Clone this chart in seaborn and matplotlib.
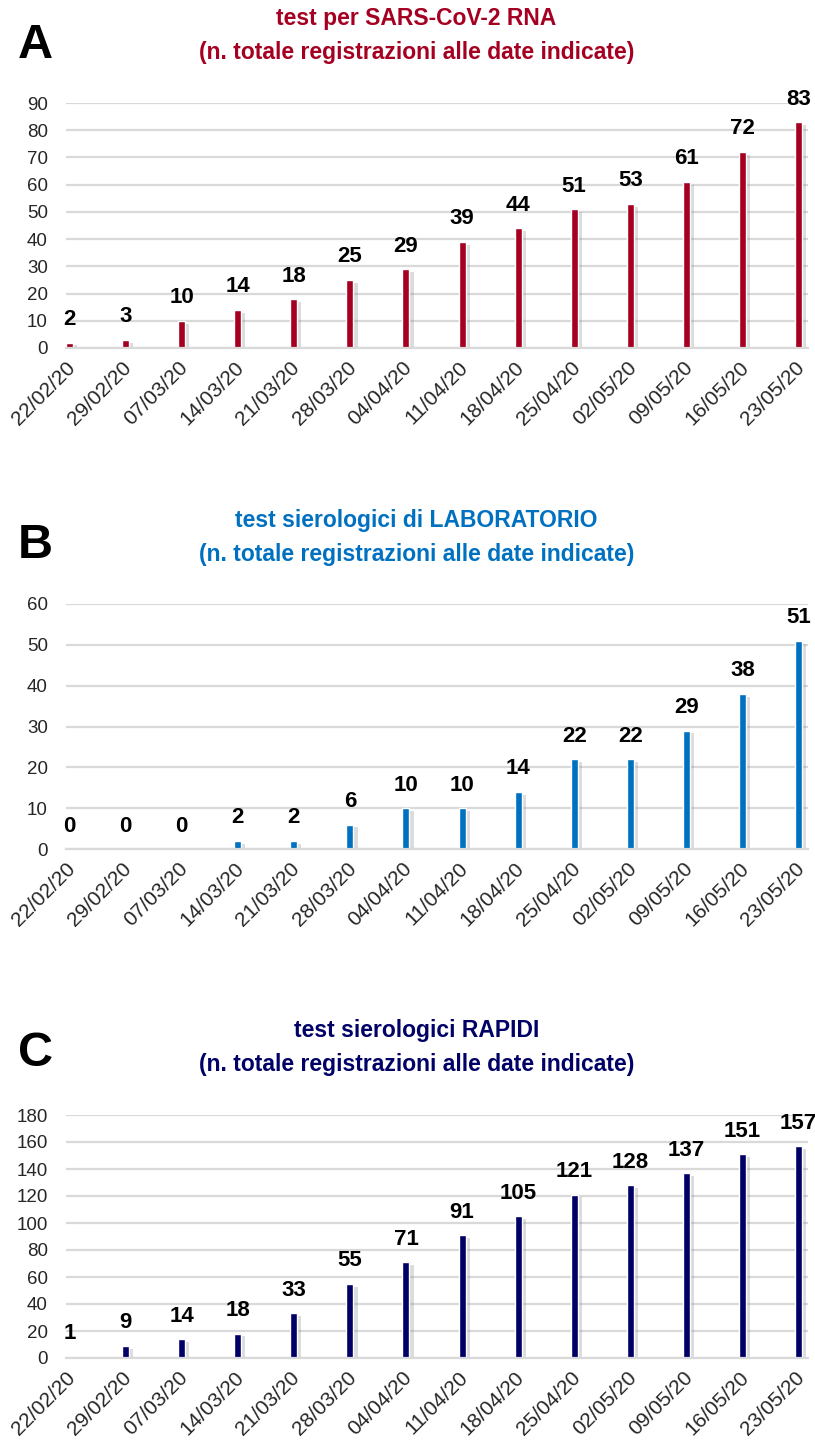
import matplotlib
matplotlib.use("Agg")
import matplotlib.pyplot as plt
import matplotlib.patheffects as pe
import seaborn as sns
import pandas as pd

dates = ["22/02/20", "29/02/20", "07/03/20", "14/03/20", "21/03/20", "28/03/20", "04/04/20",
         "11/04/20", "18/04/20", "25/04/20", "02/05/20", "09/05/20", "16/05/20", "23/05/20"]
rna = [2, 3, 10, 14, 18, 25, 29, 39, 44, 51, 53, 61, 72, 83]
lab = [0, 0, 0, 2, 2, 6, 10, 10, 14, 22, 22, 29, 38, 51]
rapidi = [1, 9, 14, 18, 33, 55, 71, 91, 105, 121, 128, 137, 151, 157]

panels = [
    ("A", "test per SARS-CoV-2 RNA", rna, "#A50021", 90, 10),
    ("B", "test sierologici di LABORATORIO", lab, "#0070C0", 60, 10),
    ("C", "test sierologici RAPIDI", rapidi, "#000066", 180, 20),
]
subtitle = "(n. totale registrazioni alle date indicate)"

sns.set_style("white")
plt.rcParams['font.family'] = ['Liberation Sans Narrow', 'Liberation Sans', 'DejaVu Sans']

fig = plt.figure(figsize=(8.15, 14.48), dpi=100)
W, H = 815, 1448

# zero line, top gridline, title line 1, title line 2, letter (pixel y)
pos = [(348, 103, 18, 52, 45), (849, 604, 520, 555, 545), (1358, 1115, 1030, 1064, 1053)]

bw = 0.125
for (letter, title, vals, col, ymax, step), (y0, y1, t1, t2, yl) in zip(panels, pos):
    left, right = 66, 808
    spacing = (795 - 66) / 13
    ax = fig.add_axes([left / W, 1 - y0 / H, (right - left) / W, (y0 - y1) / H])
    df = pd.DataFrame({"data": dates, "n": vals})
    sns.barplot(data=df, x="data", y="n", color=col, width=bw, ax=ax, saturation=1)
    for p in ax.patches:
        p.set_path_effects([pe.SimplePatchShadow(offset=(3, -2), shadow_rgbFace="#777777", alpha=0.25),
                            pe.Normal()])
    # bars sit just to the right of their tick, as in the original
    ticks = [i - bw / 2 for i in range(len(dates))]
    ax.set_xlim(-bw / 2, -bw / 2 + (right - left) / spacing)
    ax.set_ylim(0, ymax)
    ax.set_yticks(range(0, ymax + 1, step))
    ax.grid(axis="y", color="#D9D9D9", lw=1.6)
    ax.set_axisbelow(True)
    for s in ["top", "right", "left"]:
        ax.spines[s].set_visible(False)
    ax.spines["bottom"].set_color("#D9D9D9")
    ax.spines["bottom"].set_linewidth(1.6)
    ax.tick_params(axis="x", length=6, color="#D9D9D9", width=1.2, labelsize=15, pad=1)
    ax.tick_params(axis="y", length=0, labelsize=13.5, pad=13)
    ax.set_xticks(ticks)
    ax.set_xticklabels(dates, rotation=45, ha="right", rotation_mode="anchor")
    ax.set_xlabel("")
    ax.set_ylabel("")
    for i, v in enumerate(vals):
        ax.annotate(str(v), (i, v), xytext=(0, 9), textcoords="offset points",
                    ha="center", va="bottom", fontsize=16, fontweight="bold", color="black")
    fig.text(0.511, 1 - t1 / H, title, ha="center", va="center",
             fontsize=16.5, fontweight="bold", color=col)
    fig.text(0.511, 1 - t2 / H, subtitle, ha="center", va="center",
             fontsize=16.5, fontweight="bold", color=col)
    fig.text(35 / W, 1 - yl / H, letter, ha="center", va="center", fontsize=35,
             fontweight="bold", color="black")

fig.savefig("out.png", dpi=100)
